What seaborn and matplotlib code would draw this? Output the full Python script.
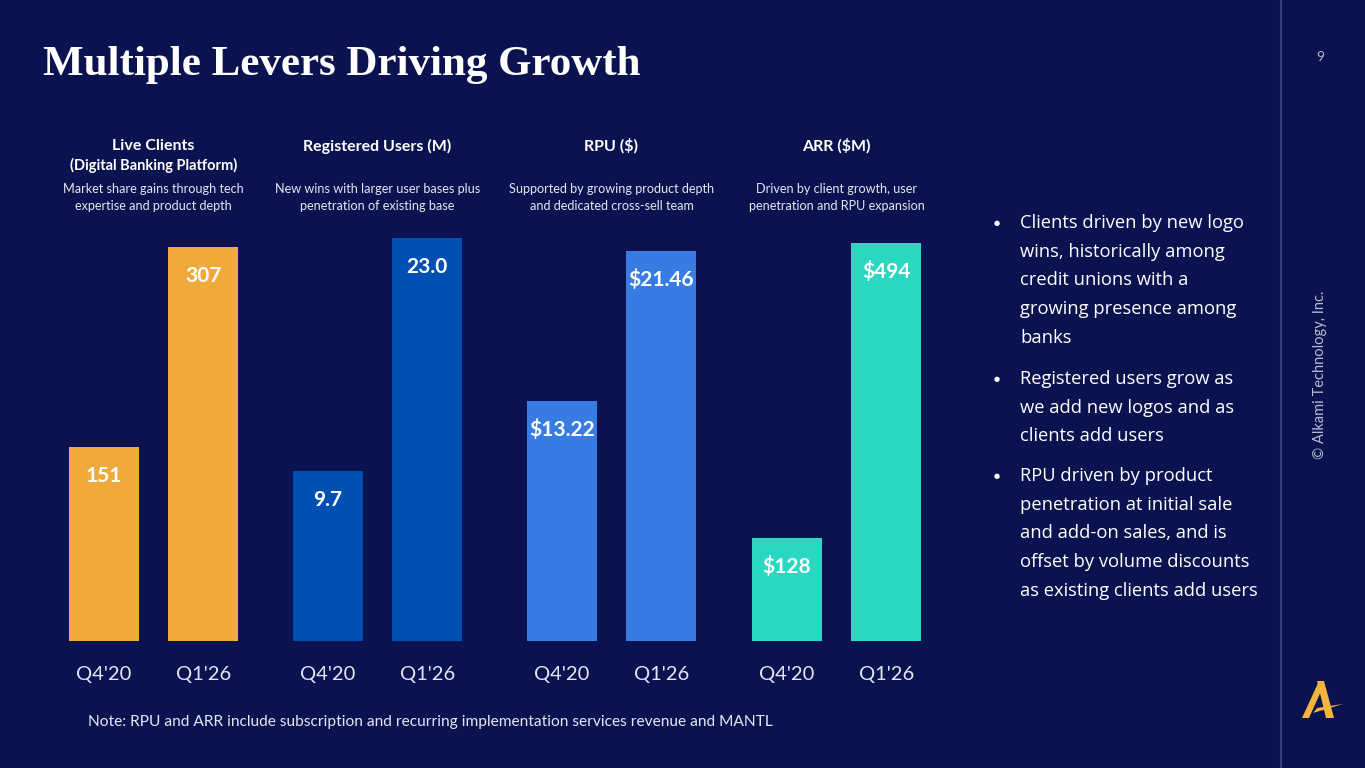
import matplotlib
matplotlib.use("Agg")
import matplotlib.pyplot as plt
import seaborn as sns
from matplotlib.lines import Line2D
from matplotlib.patches import Polygon

# values
periods = ["Q4'20", "Q1'26"]
live_clients = [151, 307]
registered_users = [9.7, 23.0]
rpu = [13.22, 21.46]
arr = [128, 494]

headers = ["Live Clients\n(Digital Banking Platform)", "Registered Users (M)", "RPU ($)", "ARR ($M)"]
subtitles = [
    "Market share gains through tech\nexpertise and product depth",
    "New wins with larger user bases plus\npenetration of existing base",
    "Supported by growing product depth\nand dedicated cross-sell team",
    "Driven by client growth, user\npenetration and RPU expansion",
]
label_fmt = ["{:.0f}", "{:.1f}", "${:.2f}", "${:.0f}"]
bullets = [
    ["Clients driven by new logo", "wins, historically among", "credit unions with a",
     "growing presence among", "banks"],
    ["Registered users grow as", "we add new logos and as", "clients add users"],
    ["RPU driven by product", "penetration at initial sale", "and add-on sales, and is",
     "offset by volume discounts", "as existing clients add users"],
]
note = "Note: RPU and ARR include subscription and recurring implementation services revenue and MANTL"

BG = "#0A1350"
colors = ["#F0AA3C", "#0050B3", "#367CE2", "#2AD8C1"]
W, H = 1365, 768

sns.set_theme(style="white")
plt.rcParams["font.family"] = ["Lato", "DejaVu Sans"]


def fx(x):
    return x / W


def fy(y):
    return 1 - y / H


fig = plt.figure(figsize=(13.65, 7.68), dpi=100, facecolor=BG)

# panel layout in pixels: left edge, axis top/bottom, y upper limit
lefts = [54, 278, 512, 737]
ax_w = 199
base_y, top_y = 641, 230
ylims = [320, 23.46, 22.6, 510]
series = [live_clients, registered_users, rpu, arr]

for i, vals in enumerate(series):
    ax = fig.add_axes([fx(lefts[i]), fy(base_y), ax_w / W, (base_y - top_y) / H])
    ax.set_facecolor(BG)
    sns.barplot(x=periods, y=vals, color=colors[i], saturation=1, width=0.7, ax=ax, linewidth=0)
    ax.set_ylim(0, ylims[i])
    ax.set_xlim(-0.5, 1.5)
    for s in ax.spines.values():
        s.set_visible(False)
    ax.set_yticks([])
    ax.set_ylabel("")
    ax.tick_params(axis="x", length=0, pad=18, labelsize=14.5, labelcolor="#E4E7F2")
    for j, v in enumerate(vals):
        ax.annotate(label_fmt[i].format(v), (j, v), xytext=(0, -29), textcoords="offset pixels",
                    ha="center", va="center", color="white", fontsize=15, fontweight="bold")
    cx = lefts[i] + ax_w / 2
    hdr = headers[i].split("\n")
    fig.text(fx(cx), fy(146), hdr[0], ha="center", va="center", color="white", fontsize=11.5, fontweight="bold")
    if len(hdr) > 1:
        fig.text(fx(cx), fy(165), hdr[1], ha="center", va="center", color="white", fontsize=10.5, fontweight="bold")
    for k, line in enumerate(subtitles[i].split("\n")):
        fig.text(fx(cx), fy(189 + 17 * k), line, ha="center", va="center", color="#E4E7F2", fontsize=9.1)

# title
fig.text(fx(43), fy(65), "Multiple Levers Driving Growth", ha="left", va="center", color="white",
         fontsize=31, fontweight="bold", family=["Liberation Serif", "DejaVu Serif"])

# bullets on the right
bullet_y = [223, 379, 476]
for by, lines in zip(bullet_y, bullets):
    fig.text(fx(997), fy(by), "\u25cf", ha="center", va="center", color="white", fontsize=5,
             family=["DejaVu Sans"])
    for k, line in enumerate(lines):
        fig.text(fx(1020), fy(by + 28.7 * k), line, ha="left", va="center", color="white",
                 fontsize=13.2, family=["Open Sans", "DejaVu Sans"])

fig.text(fx(88), fy(722), note, ha="left", va="center", color="#E4E7F2", fontsize=11.2)

# right-hand strip
fig.add_artist(Line2D([fx(1281), fx(1281)], [0, 1], color="#38407A", lw=1.5))
fig.text(fx(1320), fy(57), "9", ha="center", va="center", color="#B8BCD0", fontsize=10)
fig.text(fx(1320), fy(375), "\u00a9 Alkami Technology, Inc.", ha="center", va="center", rotation=90,
         color="#B8BCD0", fontsize=10.5)

# gold "A" logo
logo_gold = "#F2B43E"
logo_parts = [
    [(1302, 718), (1309, 718), (1322, 689), (1319, 681)],
    [(1317, 681), (1324, 681), (1334, 718), (1326, 718)],
    [(1313, 713), (1343, 704), (1317, 708)],
]
for pts in logo_parts:
    fig.add_artist(Polygon([(fx(x), fy(y)) for x, y in pts], closed=True, facecolor=logo_gold,
                           edgecolor="none", transform=fig.transFigure))

fig.savefig("out.png", dpi=100, facecolor=BG)
